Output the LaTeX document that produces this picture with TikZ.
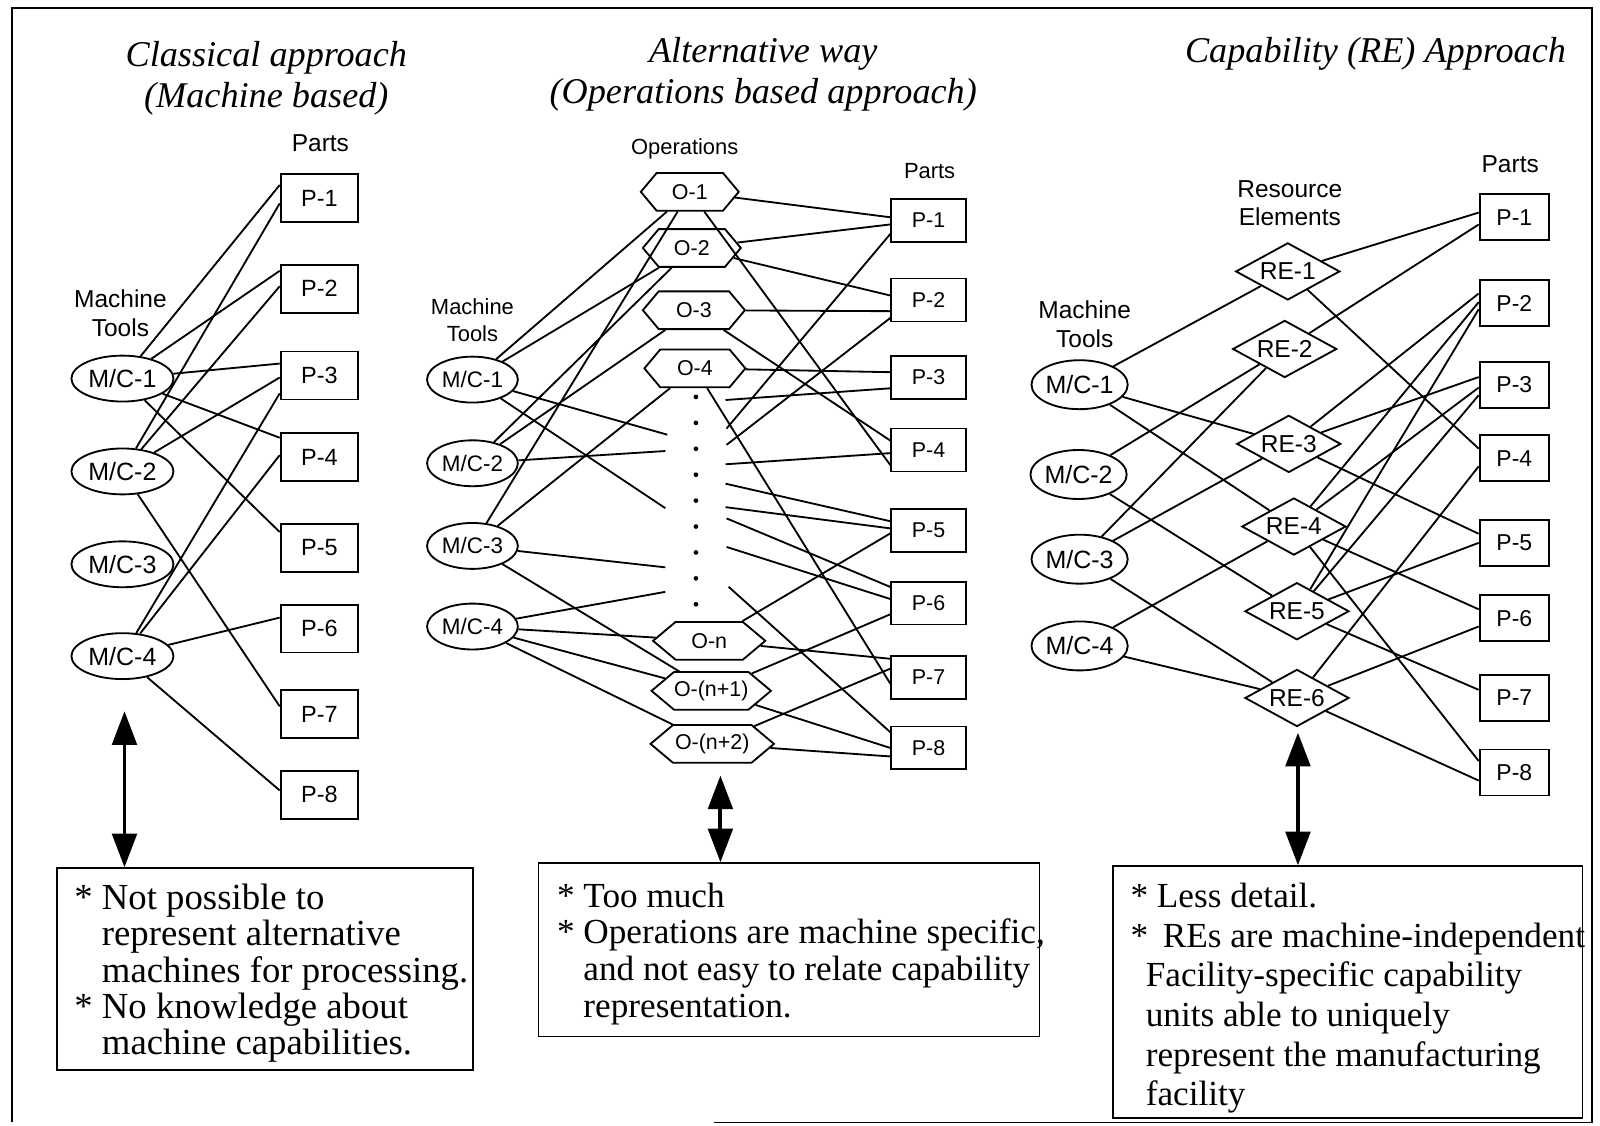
\documentclass[tikz,border=0pt]{standalone}
\usepackage{fontspec}
\setmainfont{Liberation Serif}
\newfontfamily\sansf{Liberation Sans}
\usetikzlibrary{shapes.geometric,shapes.symbols,calc,arrows.meta}
\begin{document}
\begin{tikzpicture}[x=1pt,y=-1pt,
  line width=1.8pt,
  every node/.style={inner sep=0pt},
  title/.style={font=\itshape\fontsize{35.5}{40}\selectfont, align=center},
  lblA/.style={font=\sansf\fontsize{24}{28}\selectfont, align=center},
  lblB/.style={font=\sansf\fontsize{21.5}{26}\selectfont, align=center},
  mcA/.style={draw, ellipse, minimum width=100, minimum height=45, font=\sansf\fontsize{24.5}{26}\selectfont},
  mcB/.style={draw, ellipse, minimum width=89, minimum height=45, font=\sansf\fontsize{22}{24}\selectfont},
  mcC/.style={draw, ellipse, minimum width=88, minimum height=48, font=\sansf\fontsize{24.5}{26}\selectfont},
  partA/.style={draw, rectangle, minimum width=76, minimum height=47, font=\sansf\fontsize{23}{24}\selectfont},
  partB/.style={draw, rectangle, minimum width=73, minimum height=42, font=\sansf\fontsize{21}{24}\selectfont},
  partC/.style={draw, rectangle, minimum width=68, minimum height=45, font=\sansf\fontsize{22.5}{24}\selectfont},
  op/.style={draw, signal, signal to=west and east, signal from=nowhere, signal pointer angle=100,
    minimum height=37, font=\sansf\fontsize{21}{24}\selectfont},
  opwide/.style={op, signal pointer angle=80},
  re/.style={draw, diamond, aspect=1.82, minimum width=102, minimum height=56, font=\sansf\fontsize{24}{26}\selectfont},
  framebox/.style={draw, rectangle, anchor=north west, line width=1.5pt},
  notetext/.style={anchor=west, align=left},
  bigarrow/.style={line width=3.8pt, {Triangle[length=33pt,width=24pt]}-{Triangle[length=33pt,width=24pt]}},
  outline/.style={line width=1.5pt}
]
\useasboundingbox (0,0) rectangle (1568,1103);
\newcommand{\ind}{\hspace*{0.75em}}

% outer frame
\draw[outline] (700,1100) -- (1560,1100) -- (1560,8) -- (12,8) -- (12,1100);

% ---------------- titles ----------------
\node[title] (tA) at (261,77) {Classical approach\\(Machine based)};
\node[title] (tB) at (748,73) {Alternative way\\(Operations based approach)};
\node[title] (tC) at (1348,53) {Capability (RE) Approach};

% ---------------- classical approach ----------------
\node[lblA] (partsA) at (314,140) {Parts};
\node[lblA] (toolsA) at (118,307) {Machine\\Tools};
\node[mcA] (mA1) at (120,371) {M/C-1};
\node[mcA] (mA2) at (120,462) {M/C-2};
\node[mcA] (mA3) at (120,553) {M/C-3};
\node[mcA] (mA4) at (120,643) {M/C-4};
\foreach \i/\y in {1/194,2/283,3/368,4/448,5/537,6/616,7/700,8/779}
  \node[partA] (pA\i) at (313,\y) {P-\i};
\foreach \a/\b/\f in {mA1/pA1/0.24, mA2/pA1/0.61, mA1/pA2/0.14, mA2/pA2/0.45,
    mA1/pA3/0.26, mA2/pA3/0.54, mA4/pA3/0.86, mA1/pA4/0.11, mA4/pA4/0.46,
    mA1/pA5/0.18, mA4/pA6/0.28, mA2/pA7/0.34, mA4/pA8/0.41}
  \draw (\a) -- ($(\b.north west)!\f!(\b.south west)$);

% ---------------- operations based approach ----------------
\node[lblB] (opsB) at (671,146) {Operations};
\node[lblB] (partsB) at (911,168) {Parts};
\node[lblB] (toolsB) at (463,314) {Machine\\Tools};
\node[mcB] (mB1) at (463,372) {M/C-1};
\node[mcB] (mB2) at (463,454) {M/C-2};
\node[mcB] (mB3) at (463,535) {M/C-3};
\node[mcB] (mB4) at (463,614) {M/C-4};
\node[op, minimum width=96] (oB1) at (676,188) {O-1};
\node[op, minimum width=96] (oB2) at (678,243) {O-2};
\node[op, minimum width=100] (oB3) at (680,304) {O-3};
\node[op, minimum width=99] (oB4) at (681,361) {O-4};
\node[opwide, minimum width=110] (oB5) at (695,628) {O-n};
\node[opwide, minimum width=117] (oB6) at (697,677) {O-(n+1)};
\node[opwide, minimum width=121] (oB7) at (698,729) {O-(n+2)};
\foreach \k in {0,...,8}
  \fill (682,389+25.4*\k) circle (2.3);
\foreach \i/\y in {1/216,2/294,3/370,4/441,5/520,6/591,7/664,8/733}
  \node[partB] (pB\i) at (910,\y) {P-\i};
% loose ends of the links through the elided operations
\coordinate (g1) at (654,426);
\coordinate (g2) at (652,498);
\coordinate (g3) at (652,442);
\coordinate (g4) at (652,556);
\coordinate (g5) at (652,580);
\coordinate (h1) at (712,420);
\coordinate (h2) at (712,436);
\coordinate (h3) at (711,392);
\coordinate (h4) at (711,455);
\coordinate (h5) at (711,474);
\coordinate (h6) at (711,497);
\coordinate (h7) at (712,508);
\coordinate (h8) at (712,536);
\coordinate (h9) at (714,575);
\foreach \a/\b in {mB1/oB1, mB1/oB2, mB2/oB2, mB2/oB3, mB3/oB1, mB3/oB4,
    mB3/oB6, mB4/oB5, mB4/oB6, mB4/oB7, mB1/g1, mB1/g2, mB2/g3, mB3/g4, mB4/g5}
  \draw (\a) -- (\b);
\foreach \a/\b/\f in {oB1/pB1/0.43, oB2/pB1/0.59, oB2/pB2/0.40, oB3/pB2/0.75,
    oB4/pB3/0.38, oB3/pB4/0.29, oB1/pB4/0.84, oB5/pB5/0.56, oB6/pB6/0.75,
    oB5/pB7/0.08, oB7/pB7/0.30, oB4/pB7/0.64, oB6/pB8/0.50, oB7/pB8/0.69,
    h1/pB1/0.80, h2/pB2/0.90, h3/pB3/0.74, h4/pB4/0.57, h5/pB5/0.29,
    h6/pB5/0.45, h7/pB6/0.14, h8/pB6/0.41, h9/pB8/0.15}
  \draw (\a) -- ($(\b.north west)!\f!(\b.south west)$);

% ---------------- capability (RE) approach ----------------
\node[lblA] (resC) at (1264,199) {Resource\\Elements};
\node[lblA] (partsC) at (1480,161) {Parts};
\node[lblA] (toolsC) at (1063,318) {Machine\\Tools};
\node[mcC] (mC1) at (1058,377) {M/C-1};
\node[mcC] (mC2) at (1057,465) {M/C-2};
\node[mcC] (mC3) at (1058,548) {M/C-3};
\node[mcC] (mC4) at (1058,633) {M/C-4};
\foreach \i/\x/\y in {1/1262/266,2/1259/342,3/1263/435,4/1268/516,5/1271/599,6/1271/684}
  \node[re] (re\i) at (\x,\y) {RE-\i};
\foreach \i/\y in {1/213,2/297,3/377,4/449,5/532,6/606,7/684,8/757}
  \node[partC] (pC\i) at (1484,\y) {P-\i};
\foreach \a/\b in {mC1/re1, mC1/re3, mC1/re4, mC2/re2, mC2/re5,
    mC3/re2, mC3/re3, mC3/re6, mC4/re4, mC4/re6}
  \draw (\a) -- (\b);
\foreach \a/\b/\f in {re1/pC1/0.40, re2/pC1/0.65, re3/pC2/0.30, re4/pC2/0.48,
    re5/pC2/0.63, re3/pC3/0.34, re4/pC3/0.56, re5/pC3/0.72, re1/pC4/0.30,
    re6/pC4/0.67, re3/pC5/0.31, re5/pC5/0.50, re4/pC6/0.31, re6/pC6/0.67,
    re5/pC7/0.33, re4/pC8/0.26, re6/pC8/0.67}
  \draw (\a) -- ($(\b.north west)!\f!(\b.south west)$);

% ---------------- remarks ----------------
\node[framebox, minimum width=408, minimum height=198] (nb1) at (55,850) {};
\node[notetext, font=\fontsize{36}{35.5}\selectfont] (nt1) at ($(nb1.west)+(17,4)$)
  {* Not possible to\\ \ind represent alternative\\ \ind machines for processing.\\
   * No knowledge about\\ \ind machine capabilities.};
\node[framebox, minimum width=491, minimum height=170] (nb2) at (527,845) {};
\node[notetext, font=\fontsize{34.5}{36}\selectfont] (nt2) at ($(nb2.west)+(18,4)$)
  {* Too much\\ * Operations are machine specific,\\ \ind and not easy to relate capability\\
   \ind representation.};
\node[framebox, minimum width=460, minimum height=247] (nb3) at (1090,848) {};
\node[notetext, font=\fontsize{34.5}{38.8}\selectfont] (nt3) at ($(nb3.west)+(17,6)$)
  {* Less detail.\\ * \,REs are machine-independent\\ \hspace*{15pt}Facility-specific capability\\
   \hspace*{15pt}units able to uniquely\\ \hspace*{15pt}represent the manufacturing\\
   \hspace*{15pt}facility};

% ---------------- double arrows ----------------
\coordinate (a1) at (122,697);
\coordinate (a2) at (706,760);
\coordinate (a3) at (1272,718);
\draw[bigarrow] (a1) -- (a1 |- nb1.north);
\draw[bigarrow] (a2) -- (a2 |- nb2.north);
\draw[bigarrow] (a3) -- (a3 |- nb3.north);
\end{tikzpicture}
\end{document}
